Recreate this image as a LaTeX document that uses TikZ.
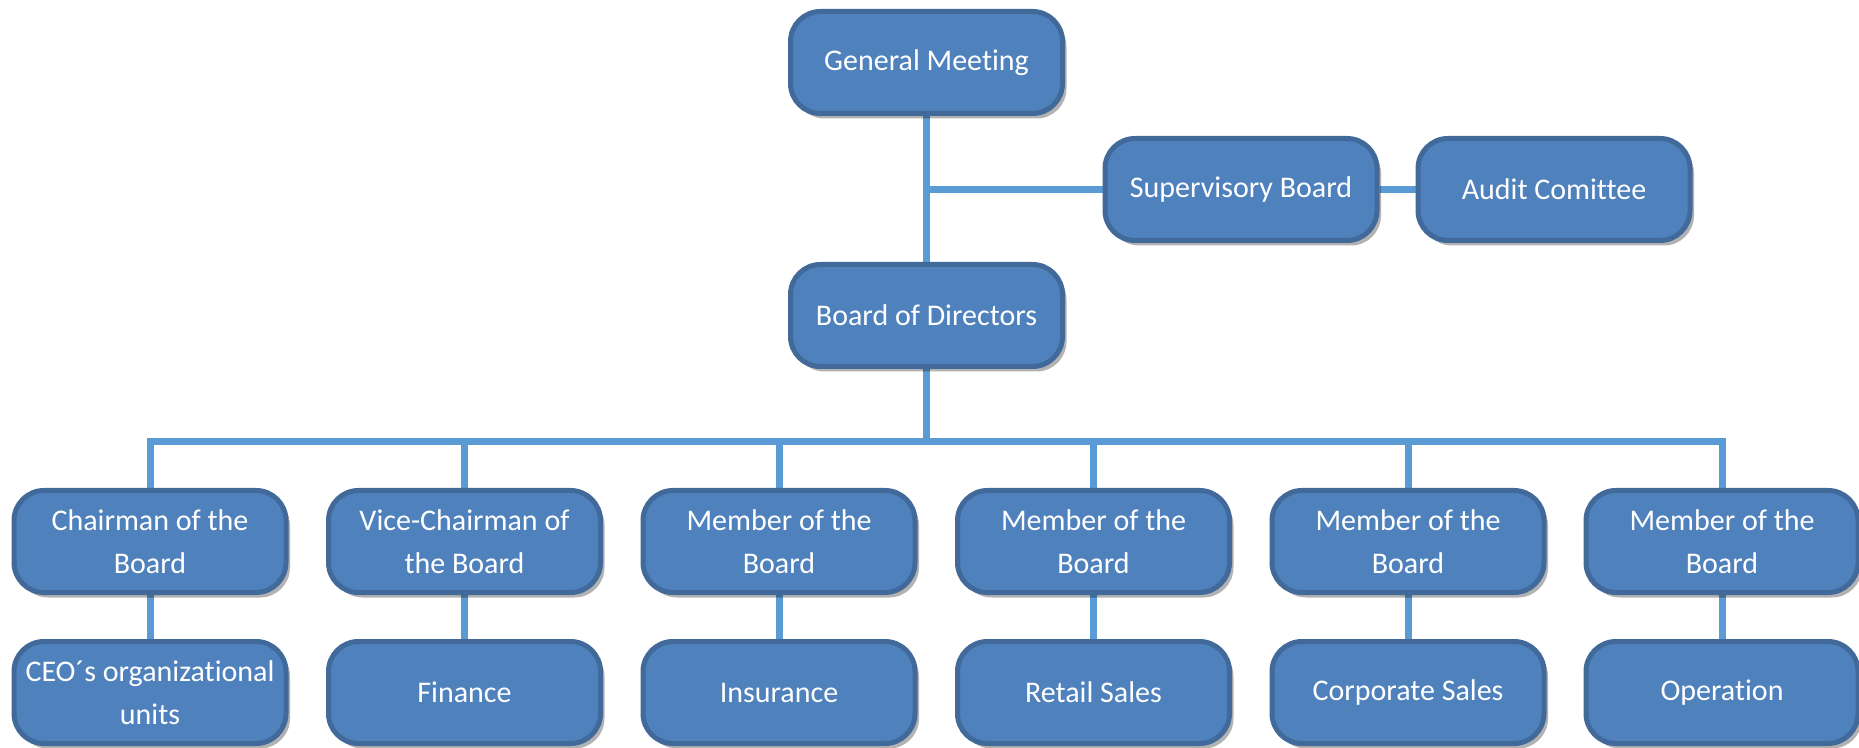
\documentclass[tikz,border=0pt]{standalone}
\usepackage{fontspec}
\setmainfont{Carlito}[Ligatures=NoCommon]
\usetikzlibrary{shadows,backgrounds}
\definecolor{boxfill}{HTML}{4F81BD}
\definecolor{boxedge}{HTML}{41699A}
\definecolor{linkc}{HTML}{5B9BD5}
\tikzset{
  orgbox/.style={draw=boxedge, line width=5pt, fill=boxfill, rounded corners=30pt,
    text=white, align=center, font=\fontsize{30}{43}\selectfont,
    minimum width=272pt, minimum height=102pt, inner sep=0pt,
    drop shadow={shadow xshift=4pt, shadow yshift=-5pt, opacity=0.3, fill=black}},
  link/.style={draw=linkc, line width=7pt}
}
\begin{document}
\begin{tikzpicture}[x=1pt,y=1pt]
\useasboundingbox (0,0) rectangle (1859,747);
\coordinate (bar) at (927,305);
\node[orgbox] (gm) at (926.5,684.5) {General Meeting};
\node[orgbox] (bod) at (926.5,431.5) {Board of Directors};
\node[orgbox] (sup) at (1241,557.5) {Supervisory Board};
\node[orgbox] (aud) at (1554,557.5) {Audit Comittee};
\node[orgbox] (m1) at (150,205.5) {Chairman of the\\Board};
\node[orgbox] (m2) at (464.5,205.5) {Vice-Chairman of\\the Board};
\node[orgbox] (m3) at (779,205.5) {Member of the\\Board};
\node[orgbox] (m4) at (1093.5,205.5) {Member of the\\Board};
\node[orgbox] (m5) at (1408,205.5) {Member of the\\Board};
\node[orgbox] (m6) at (1722,205.5) {Member of the\\Board};
\node[orgbox] (u1) at (150,54.5) {CEO´s organizational\\units};
\node[orgbox] (u2) at (464.5,54.5) {Finance};
\node[orgbox] (u3) at (779,54.5) {Insurance};
\node[orgbox] (u4) at (1093.5,54.5) {Retail Sales};
\node[orgbox] (u5) at (1408,54.5) {Corporate Sales};
\node[orgbox] (u6) at (1722,54.5) {Operation};
\begin{scope}[on background layer]
  \draw[link] (gm.south) -- (bod.north);
  \draw[link] (gm.south |- sup.west) -- (sup.west);
  \draw[link] (sup.east) -- (aud.west);
  \draw[link] (bod.south) -- (bod.south |- bar);
  \draw[link] (m1.north) -- (m1.north |- bar) -- (m6.north |- bar) -- (m6.north);
  \foreach \i in {2,3,4,5} {
    \draw[link] (m\i.north) -- (m\i.north |- bar);
  }
  \foreach \i in {1,...,6} {
    \draw[link] (m\i.south) -- (u\i.north);
  }
\end{scope}
\end{tikzpicture}
\end{document}
